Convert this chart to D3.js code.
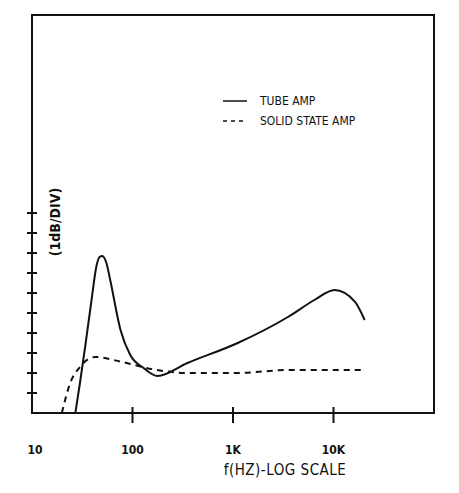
<!DOCTYPE html>
<html><head><meta charset="utf-8">
<script src="https://cdn.jsdelivr.net/npm/d3@7"></script>
<style>body{margin:0;background:#fff}text{font-family:"DejaVu Sans Condensed","DejaVu Sans",sans-serif;fill:#111}</style>
</head><body><svg id="chart" width="459" height="493"></svg>
<script>
// Data: frequency in Hz, level in dB
const tubeFreq = [27, 30, 34, 39, 44, 47, 50, 55, 60, 76, 95, 129, 177, 352, 1114, 3520, 6460, 10230, 16300, 20400];
const tubeDb   = [0, 1.5, 3.4, 5.6, 7.4, 7.8, 7.85, 7.5, 6.65, 4.15, 2.9, 2.25, 1.85, 2.5, 3.5, 4.8, 5.65, 6.15, 5.57, 4.65];
const ssFreq = [19.8, 24, 30, 42.7, 76, 162, 352, 1114, 3520, 20400];
const ssDb   = [0, 1.5, 2.3, 2.8, 2.57, 2.18, 2.0, 2.0, 2.15, 2.15];
const xTicks = [100, 1000, 10000];
const xTickLabels = [[10, "10"], [100, "100"], [1000, "1K"], [10000, "10K"]];
const yTicks = [1, 2, 3, 4, 5, 6, 7, 8, 9, 10];

(function () {
const svg = d3.select('#chart');
const m = {left: 32, right: 434, top: 15, bottom: 413};
const x = d3.scaleLog().domain([10, 100000]).range([m.left, m.right]);
const y = d3.scaleLinear().domain([0, 19.9]).range([m.bottom, m.top]);

// frame
svg.append('rect').attr('x', m.left).attr('y', m.top)
    .attr('width', m.right - m.left).attr('height', m.bottom - m.top)
    .attr('fill', 'none').attr('stroke', '#111').attr('stroke-width', 2);

// ticks
svg.selectAll('.xt').data(xTicks).enter().append('line')
    .attr('x1', d => x(d)).attr('x2', d => x(d))
    .attr('y1', m.bottom - 6).attr('y2', m.bottom + 10)
    .attr('stroke', '#111').attr('stroke-width', 2);
svg.selectAll('.yt').data(yTicks).enter().append('line')
    .attr('x1', m.left - 5).attr('x2', m.left + 5)
    .attr('y1', d => y(d)).attr('y2', d => y(d))
    .attr('stroke', '#111').attr('stroke-width', 2);

svg.selectAll('.xl').data(xTickLabels).enter().append('text')
    .attr('x', d => x(d[0]) + (d[0] === 10 ? 3 : 0)).attr('y', 454)
    .attr('text-anchor', 'middle').attr('font-size', 12).attr('font-weight', 'bold')
    .text(d => d[1]);

svg.append('text').attr('x', 285).attr('y', 475).attr('text-anchor', 'middle')
    .attr('font-size', 15).attr('letter-spacing', 0.5).text('f(HZ)-LOG SCALE');
svg.append('text').attr('transform', 'translate(60,222) rotate(-90)')
    .attr('text-anchor', 'middle').attr('font-size', 14).attr('font-weight', 'bold').text('(1dB/DIV)');

// curves
const line = d3.line().x(d => x(d[0])).y(d => y(d[1])).curve(d3.curveMonotoneX);
svg.append('path').datum(d3.zip(tubeFreq, tubeDb)).attr('d', line)
    .attr('fill', 'none').attr('stroke', '#111').attr('stroke-width', 2);
svg.append('path').datum(d3.zip(ssFreq, ssDb)).attr('d', line)
    .attr('fill', 'none').attr('stroke', '#111').attr('stroke-width', 2)
    .attr('stroke-dasharray', '6,5');

// legend
const legend = [['TUBE AMP', null], ['SOLID STATE AMP', '4,4']];
legend.forEach((d, i) => {
    const ly = 101 + i * 20;
    svg.append('line').attr('x1', 223).attr('x2', 247).attr('y1', ly).attr('y2', ly)
        .attr('stroke', '#111').attr('stroke-width', 1.5).attr('stroke-dasharray', d[1]);
    svg.append('text').attr('x', 260).attr('y', ly + 4).attr('font-size', 12).text(d[0]);
});
})();
</script></body></html>
